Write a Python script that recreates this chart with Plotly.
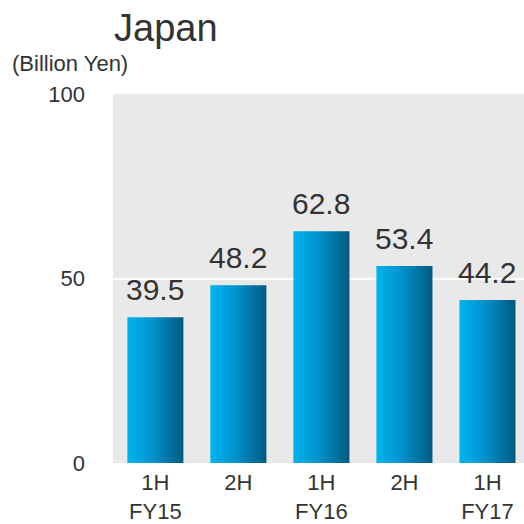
import plotly.graph_objects as go

categories = ["1H<br>FY15", "2H", "1H<br>FY16", "2H", "1H<br>FY17"]
values = [39.5, 48.2, 62.8, 53.4, 44.2]
value_labels = ["39.5", "48.2", "62.8", "53.4", "44.2"]
y_ticks = [0, 50, 100]

BAR_W = 0.675
FONT = "Liberation Sans, Arial, sans-serif"
TXT = "#333333"
grad = [[0, "#00b4f0"], [0.45, "#0092cc"], [1, "#005a80"]]

fig = go.Figure()
for i, v in enumerate(values):
    x0, x1 = i - BAR_W / 2, i + BAR_W / 2
    fig.add_trace(go.Scatter(
        x=[x0, x1, x1, x0, x0], y=[0, 0, v, v, 0],
        mode="lines", fill="toself", line=dict(width=0),
        fillgradient=dict(type="horizontal", colorscale=grad),
        hoverinfo="skip", showlegend=False,
    ))
    fig.add_annotation(x=i, y=v, text=value_labels[i], showarrow=False,
                       yanchor="bottom", yshift=9,
                       font=dict(family=FONT, size=30, color=TXT))

fig.add_annotation(xref="paper", yref="paper", x=-0.002, y=1.18, xanchor="left",
                   yanchor="middle", text="Japan", showarrow=False,
                   font=dict(family=FONT, size=38, color=TXT))
fig.add_annotation(xref="paper", yref="paper", x=-0.25, y=1.082, xanchor="left",
                   yanchor="middle", text="(Billion Yen)", showarrow=False,
                   font=dict(family=FONT, size=22, color=TXT))

fig.update_layout(
    width=524, height=524,
    margin=dict(l=113, r=0, t=94, b=61, autoexpand=False),
    paper_bgcolor="white", plot_bgcolor="#e9e9e9",
    xaxis=dict(range=[-0.51, 4.44], tickvals=list(range(len(categories))),
               ticktext=categories, showgrid=False, zeroline=False,
               ticklabelstandoff=4, automargin=False,
               tickfont=dict(family=FONT, size=22, color=TXT), fixedrange=True),
    yaxis=dict(range=[0, 100], tickvals=y_ticks, showgrid=True, gridcolor="white",
               gridwidth=2, zeroline=False, ticklabelstandoff=27, automargin=False,
               tickfont=dict(family=FONT, size=22, color=TXT), fixedrange=True),
)
bg = ("linear-gradient(#ffffff 0px, #ffffff 94px, #e9e9e9 94px, "
      "#e9e9e9 463px, #ffffff 463px) no-repeat")
fig.write_html(
    "out.html", config={"displayModeBar": False},
    post_script=("document.documentElement.style.overflow='hidden';"
                 "document.body.style.overflow='hidden';"
                 "document.body.style.margin='0';"
                 "document.documentElement.style.background='" + bg + "';"
                 "document.documentElement.style.backgroundSize='100% 524px';"),
)
